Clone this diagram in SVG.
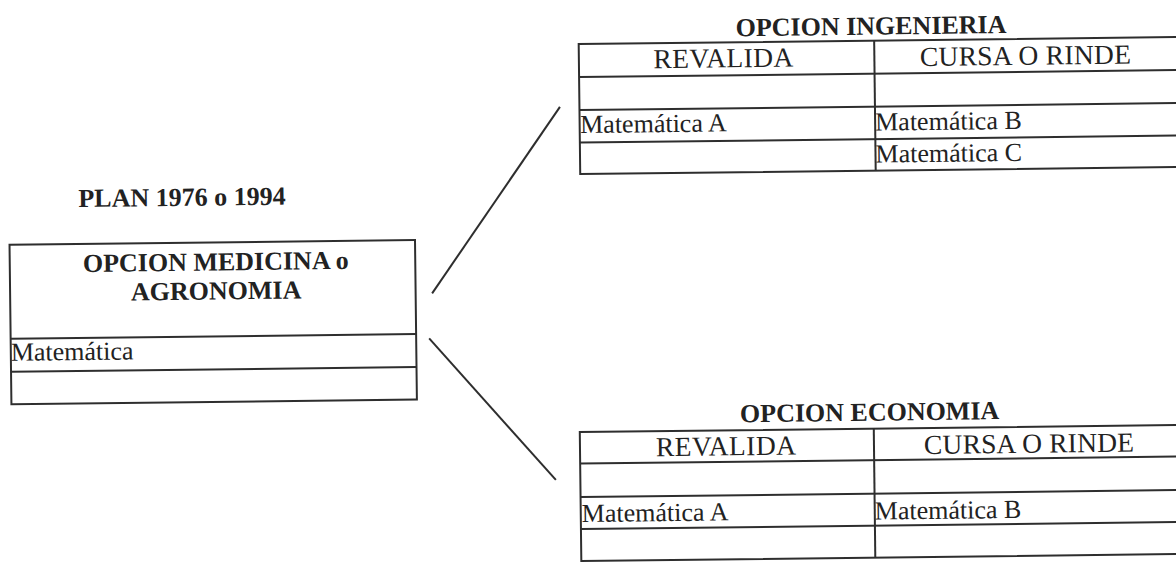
<svg xmlns="http://www.w3.org/2000/svg" width="1176" height="563" viewBox="0 0 1176 563">
<style>
.bg{fill:#ffffff}
.ln{stroke:#2e2e2e;stroke-width:2;fill:none}
.t{font-family:"Liberation Serif","Times New Roman",serif;font-size:26px;fill:#222}
.h{font-family:"Liberation Serif","Times New Roman",serif;font-size:27.5px;fill:#222}
.b{font-family:"Liberation Serif","Times New Roman",serif;font-size:26px;font-weight:bold;fill:#222}
</style>
<rect class="bg" x="0" y="0" width="1176" height="563"/>
<g transform="rotate(-0.68 588 281)">
<g id="plan">
<text class="b" x="183" y="201" text-anchor="middle">PLAN 1976 o 1994</text>
</g>
<g id="medicina">
<rect class="ln" x="10" y="238" width="405.5" height="159.5"/>
<line class="ln" x1="10" y1="332" x2="415.5" y2="332"/>
<line class="ln" x1="10" y1="365" x2="415.5" y2="365"/>
<text class="b" x="216" y="266" text-anchor="middle">OPCION MEDICINA o</text>
<text class="b" x="216" y="295" text-anchor="middle">AGRONOMIA</text>
<text class="t" x="10" y="354">Matemática</text>
</g>
<g id="ingenieria">
<text class="b" x="874" y="38" text-anchor="middle">OPCION INGENIERIA</text>
<polyline class="ln" points="1200,44 581.5,44 581.5,174 1200,174"/>
<line class="ln" x1="581.5" y1="77" x2="1200" y2="77"/>
<line class="ln" x1="581.5" y1="110" x2="1200" y2="110"/>
<line class="ln" x1="581.5" y1="142.5" x2="1200" y2="142.5"/>
<line class="ln" x1="877" y1="44" x2="877" y2="174"/>
<text class="h" x="726" y="69" text-anchor="middle" textLength="140" lengthAdjust="spacing">REVALIDA</text>
<text class="h" x="1028" y="70" text-anchor="middle" textLength="211" lengthAdjust="spacing">CURSA O RINDE</text>
<text class="t" x="582" y="133">Matemática A</text>
<text class="t" x="877" y="134">Matemática B</text>
<text class="t" x="877" y="166">Matemática C</text>
</g>
<g id="economia">
<text class="b" x="868" y="424" text-anchor="middle">OPCION ECONOMIA</text>
<polyline class="ln" points="1200,432 578,432 578,561 1200,561"/>
<line class="ln" x1="578" y1="463.5" x2="1200" y2="463.5"/>
<line class="ln" x1="578" y1="497" x2="1200" y2="497"/>
<line class="ln" x1="578" y1="529" x2="1200" y2="529"/>
<line class="ln" x1="872" y1="432" x2="872" y2="561"/>
<text class="h" x="724" y="457" text-anchor="middle" textLength="140" lengthAdjust="spacing">REVALIDA</text>
<text class="h" x="1027" y="458" text-anchor="middle" textLength="210" lengthAdjust="spacing">CURSA O RINDE</text>
<text class="t" x="579" y="522">Matemática A</text>
<text class="t" x="872" y="523">Matemática B</text>
</g>
<g id="connectors">
<line class="ln" x1="432" y1="291.5" x2="562" y2="106.5"/>
<line class="ln" x1="428.5" y1="336.5" x2="553.5" y2="479.5"/>
</g>
</g>
</svg>
